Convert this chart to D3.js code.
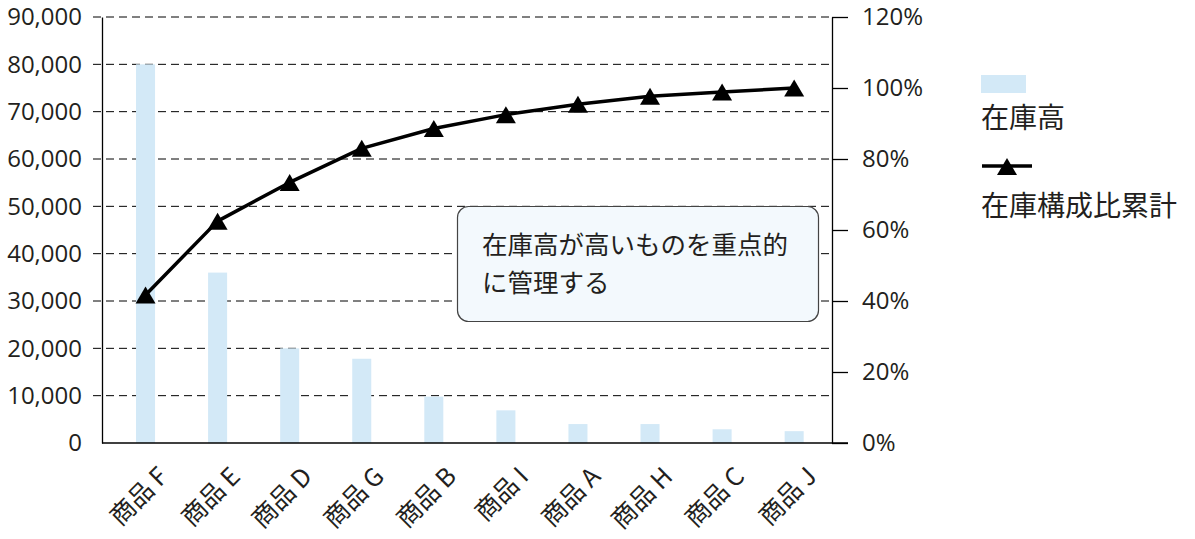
<!DOCTYPE html>
<html>
<head>
<meta charset="utf-8">
<script src="https://cdn.jsdelivr.net/npm/d3@7"></script>
<style>
  html, body { margin: 0; padding: 0; background: #ffffff; }
  svg { display: block; }
  text { font-family: "Open Sans", "Noto Sans CJK JP", sans-serif; fill: #231f20; }
  .jp { font-family: "Noto Sans CJK JP", sans-serif; }
</style>
</head>
<body>
<svg id="chart" width="1195" height="539"></svg>
<script>
// ---- data ----
const categories = ["商品 F", "商品 E", "商品 D", "商品 G", "商品 B", "商品 I", "商品 A", "商品 H", "商品 C", "商品 J"];
const stockValues = [80000, 36000, 20000, 17800, 9800, 6900, 4000, 4000, 2900, 2500];
const cumulativePct = [41.7, 62.5, 73.4, 83.0, 88.6, 92.5, 95.4, 97.7, 98.9, 100];
const leftTicks = [0, 10000, 20000, 30000, 40000, 50000, 60000, 70000, 80000, 90000];
const rightTicks = [0, 0.2, 0.4, 0.6, 0.8, 1.0, 1.2];
const seriesNames = ["在庫高", "在庫構成比累計"];
const noteLines = ["在庫高が高いものを重点的", "に管理する"];

// ---- layout ----
const svg = d3.select("#chart");
const plot = { left: 102, right: 832, top: 17, bottom: 443 };
const barColor = "#d3e9f7";
const ink = "#000000";

const x = d3.scaleBand().domain(categories)
  .range([109.5, 830.2]).paddingInner(0.736).paddingOuter(0.368);
const yL = d3.scaleLinear().domain([0, 90000]).range([plot.bottom, plot.top]);
const yR = d3.scaleLinear().domain([0, 1.2]).range([plot.bottom, plot.top]);
const cx = d => x(d) + x.bandwidth() / 2;

// gridlines (dashed)
svg.append("g").selectAll("line")
  .data(leftTicks.filter(d => d > 0))
  .join("line")
  .attr("x1", plot.left - 9).attr("x2", plot.right)
  .attr("y1", d => yL(d)).attr("y2", d => yL(d))
  .attr("stroke", ink).attr("stroke-width", 1)
  .attr("stroke-dasharray", "8,5");

// bars
svg.append("g").selectAll("rect")
  .data(stockValues)
  .join("rect")
  .attr("x", (d, i) => x(categories[i]))
  .attr("width", x.bandwidth())
  .attr("y", d => yL(d))
  .attr("height", d => yL(0) - yL(d))
  .attr("fill", barColor);

// left axis
const gL = svg.append("g").attr("transform", `translate(${plot.left},0)`)
  .call(d3.axisLeft(yL).tickValues(leftTicks).tickSize(0).tickPadding(20)
    .tickFormat(d3.format(",")));
gL.select(".domain").attr("stroke", ink).attr("stroke-width", 1.3);
gL.selectAll("text").style("font-size", "24px").attr("fill", "#231f20");

// right axis
const gR = svg.append("g").attr("transform", `translate(${plot.right},0)`)
  .call(d3.axisRight(yR).tickValues(rightTicks).tickSize(16).tickSizeOuter(0).tickPadding(14)
    .tickFormat(d3.format(".0%")));
gR.select(".domain").attr("stroke", ink).attr("stroke-width", 1.3);
gR.selectAll(".tick line").attr("stroke", ink).attr("stroke-width", 1.3);
gR.selectAll("text").style("font-size", "24px").attr("fill", "#231f20");

// bottom axis
const gB = svg.append("g").attr("transform", `translate(0,${plot.bottom})`)
  .call(d3.axisBottom(x).tickSize(0).tickSizeOuter(0));
gB.select(".domain").remove();
gB.append("line").attr("x1", plot.left).attr("x2", plot.right + 16)
  .attr("y1", 0).attr("y2", 0).attr("stroke", ink).attr("stroke-width", 1.5);
gB.selectAll(".tick text")
  .attr("class", "jp")
  .style("font-size", "25px")
  .attr("text-anchor", "end")
  .attr("y", 0).attr("dy", 0)
  .attr("transform", "translate(24,35) rotate(-45)");

// cumulative line
const line = d3.line().x((d, i) => cx(categories[i])).y(d => yR(d / 100));
svg.append("path").datum(cumulativePct)
  .attr("d", line).attr("fill", "none")
  .attr("stroke", ink).attr("stroke-width", 3.5).attr("stroke-linejoin", "round");

const tri = "M0,-8.5L10,8.5L-10,8.5Z";
svg.append("g").selectAll("path")
  .data(cumulativePct)
  .join("path")
  .attr("d", tri)
  .attr("transform", (d, i) => `translate(${cx(categories[i])},${yR(d / 100)})`)
  .attr("fill", ink);

// annotation box
const note = svg.append("g");
note.append("rect").attr("x", 457.5).attr("y", 206.5).attr("width", 361).attr("height", 115)
  .attr("rx", 11).attr("fill", "#f3f9fd").attr("stroke", "#444").attr("stroke-width", 1.2);
note.selectAll("text").data(noteLines).join("text")
  .attr("class", "jp")
  .attr("x", 482).attr("y", (d, i) => 254 + i * 38)
  .style("font-size", "25.5px").text(d => d);

// legend
const lg = svg.append("g");
lg.append("rect").attr("x", 981).attr("y", 75).attr("width", 45).attr("height", 18).attr("fill", barColor);
lg.append("text").attr("class", "jp").attr("x", 981).attr("y", 128).style("font-size", "28px").text(seriesNames[0]);
lg.append("line").attr("x1", 982).attr("x2", 1032).attr("y1", 166).attr("y2", 166)
  .attr("stroke", ink).attr("stroke-width", 3.5);
lg.append("path").attr("d", tri).attr("transform", "translate(1007,166.5)").attr("fill", ink);
lg.append("text").attr("class", "jp").attr("x", 981).attr("y", 216).style("font-size", "28px").text(seriesNames[1]);
</script>
</body>
</html>
